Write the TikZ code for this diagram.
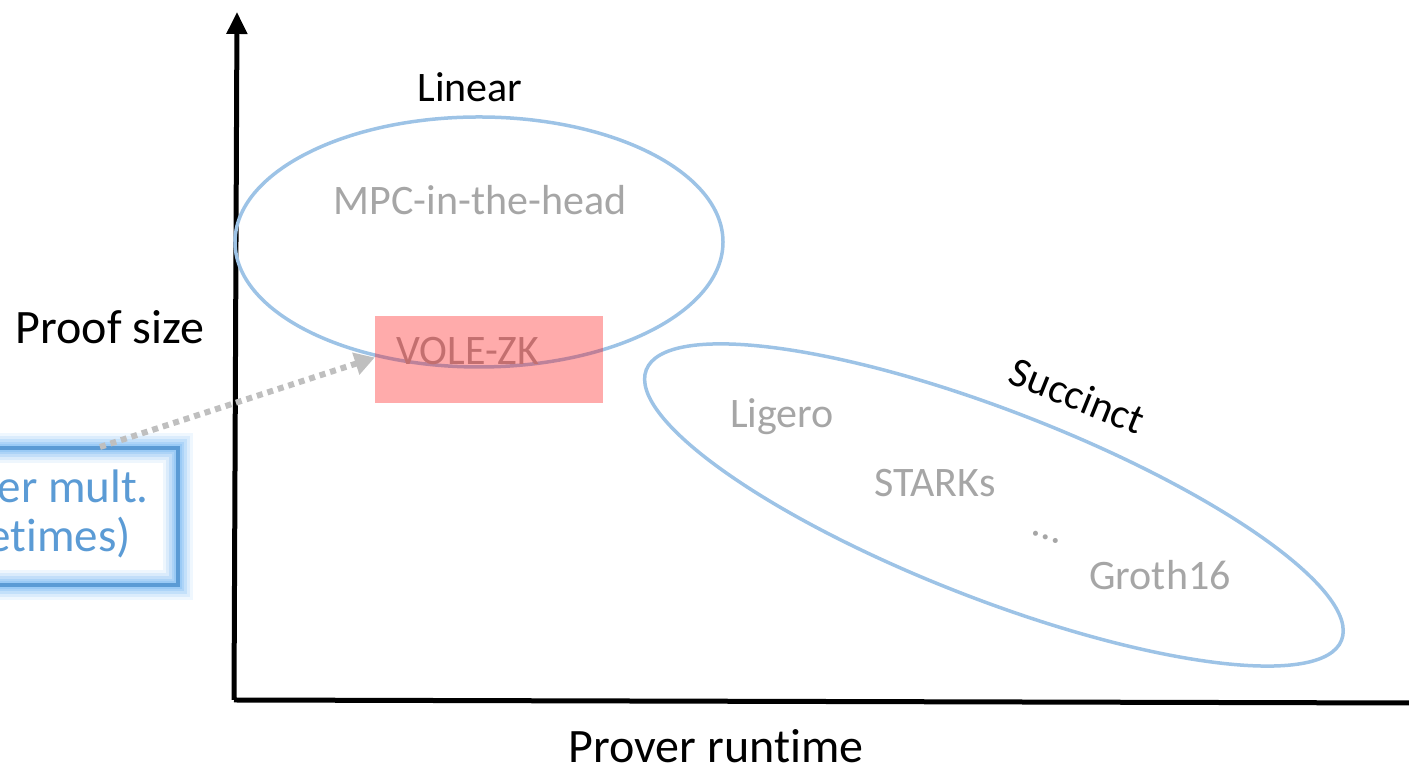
\documentclass[tikz,border=0pt]{standalone}
\usepackage{fontspec}
\setmainfont{Carlito}[RawFeature={-liga}]
\usetikzlibrary{arrows.meta,shapes.geometric}
\definecolor{ringblue}{RGB}{157,195,230}
\definecolor{boxblue}{RGB}{91,155,213}
\definecolor{glowblue}{RGB}{140,195,245}
\definecolor{labelgray}{RGB}{166,166,166}
\definecolor{arrowgray}{RGB}{191,191,191}
\definecolor{volered}{RGB}{255,0,0}
\tikzset{
  axis/.style={line width=5pt, black},
  ring/.style={draw=ringblue, line width=3.5pt},
  title/.style={font=\fontsize{42}{50}\selectfont, text=black, inner sep=0pt},
  axislabel/.style={font=\fontsize{48}{56}\selectfont, text=black, inner sep=0pt},
  scheme/.style={font=\fontsize{42}{50}\selectfont, text=labelgray, inner sep=0pt},
  boxtext/.style={font=\fontsize{47}{55}\selectfont, text=boxblue, inner sep=0pt},
  pointer/.style={draw=arrowgray, line width=6pt, dash pattern=on 6pt off 5pt,
    -{Triangle[length=20pt,width=22pt]}},
}
\begin{document}
\begin{tikzpicture}[x=1pt,y=1pt]
\useasboundingbox (0,0) rectangle (1409,767);
\clip (0,0) rectangle (1409,767);

% axes
\coordinate (origin) at (234,67);
\coordinate (ytop) at (237,755);
\coordinate (xend) at (1412,64);
\draw[axis] (origin) -- (xend);
\draw[axis, -{Triangle[length=22pt,width=20pt]}] (origin) -- (ytop);

% axis labels
\node[axislabel, anchor=base] (ylabel) at (110,423) {Proof size};
\node[axislabel, anchor=base] (xlabel) at (716,4) {Prover runtime};

% linear-size proofs
\node[ring, ellipse, minimum width=488pt, minimum height=250pt, inner sep=0pt] (linear) at (479,525) {};
\node[title, anchor=base] (lineartag) at (470,665) {Linear};
\node[scheme, anchor=base] (mpc) at (480,552) {MPC-in-the-head};

% succinct proofs
\coordinate (succ) at (994,262);
\draw[ring, rotate around={-21.25:(succ)}] (succ) ellipse [x radius=373pt, y radius=94pt];
\node[title, anchor=base, rotate=-22] (succtag) at (1072,358) {Succinct};
\node[scheme, anchor=base] (ligero) at (782,339) {Ligero};
\node[scheme, anchor=base] (starks) at (935,270) {STARKs};
\node[scheme, rotate=-20] (dots) at (1046,230) {\dots};
\node[scheme, anchor=base] (groth) at (1160,177) {Groth16};

% VOLE-ZK highlight
\node[scheme, anchor=base] (voletext) at (468,402) {VOLE-ZK};
\node[fill=volered, fill opacity=0.33, minimum width=228pt, minimum height=87pt,
      inner sep=0pt] (vole) at (489,407.5) {};

% highlighted note box with soft glow
\coordinate (nbl) at (-300,182);
\coordinate (ntr) at (178,319);
\fill[white] (nbl) rectangle (ntr);
\foreach \w/\o in {30/0.14, 24/0.2, 18/0.3, 12/0.4, 8/0.55}
  \draw[glowblue, line width=\w pt, opacity=\o] (nbl) rectangle (ntr);
\draw[boxblue, line width=4pt] (nbl) rectangle (ntr);
\node[boxtext, anchor=base east] (line1) at (149,264) {er mult.};
\node[boxtext, anchor=base east] (line2) at (131,215) {etimes)};

% pointer from note to VOLE-ZK
\coordinate (notetop) at (100,320);
\draw[pointer] (notetop) -- ([yshift=2pt]vole.west);
\end{tikzpicture}
\end{document}
